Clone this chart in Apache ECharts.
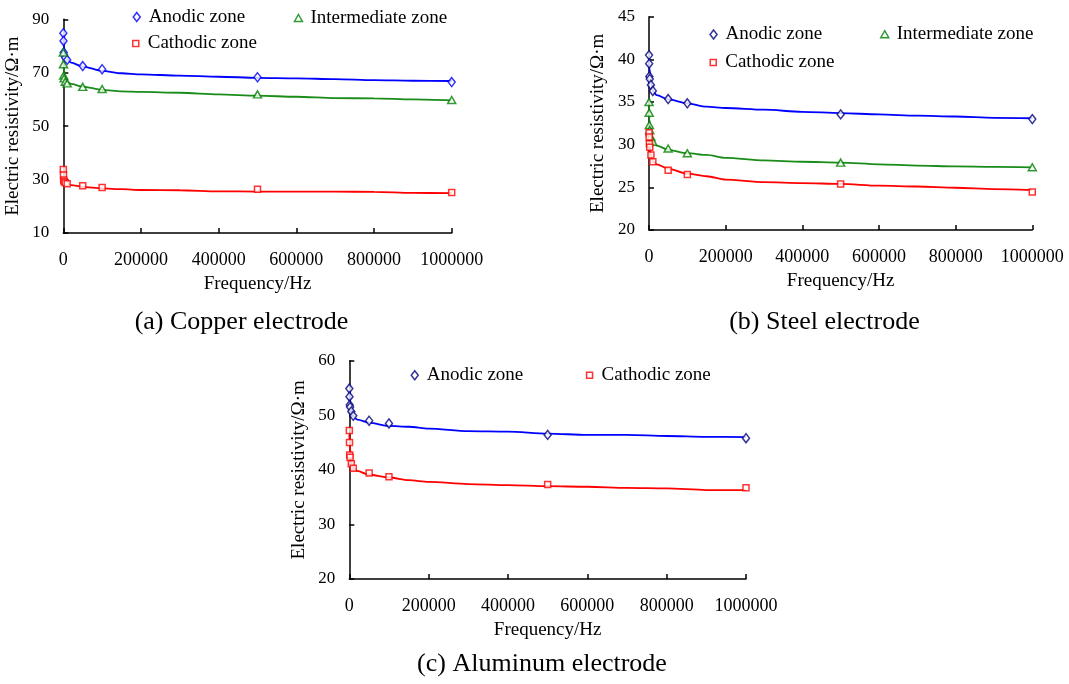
<!DOCTYPE html>
<html>
<head>
<meta charset="utf-8">
<script src="https://cdn.jsdelivr.net/npm/echarts@6/dist/echarts.min.js"></script>
<style>
html,body{margin:0;padding:0;background:#fff;}
#main{width:1069px;height:684px;}
</style>
</head>
<body>
<div id="main"></div>
<script>
// ---- data ----
const freqs = [100, 500, 1000, 2000, 5000, 10000, 50000, 100000, 500000, 1000000];
const cuAnodic = [84.8, 81.9, 77.6, 76.6, 75.6, 74.8, 72.5, 71.3, 68.3, 66.5];
const cuInter  = [77.6, 73.2, 68.9, 67.9, 66.6, 66.0, 64.7, 63.9, 61.9, 59.8];
const cuCath   = [33.8, 31.7, 29.8, 29.3, 28.8, 28.4, 27.7, 27.0, 26.4, 25.2];
const stAnodic = [40.5, 39.5, 38.0, 37.7, 37.0, 36.3, 35.35, 34.85, 33.55, 33.0];
const stInter  = [35.0, 33.75, 32.3, 31.7, 30.9, 30.35, 29.55, 29.0, 27.9, 27.35];
const stCath   = [31.4, 30.9, 30.1, 29.7, 28.8, 28.0, 27.0, 26.5, 25.4, 24.45];
const alAnodic = [54.9, 53.4, 51.9, 51.5, 50.7, 49.9, 49.0, 48.5, 46.4, 45.8];
const alCath   = [47.2, 45.0, 42.7, 42.3, 41.1, 40.3, 39.4, 38.75, 37.3, 36.7];

// fitted curves
const fitFreqs = [100, 1000, 5000, 10000, 20000, 50000, 100000, 150000, 200000, 300000, 400000, 500000, 600000, 700000, 800000, 900000, 1000000];
const cuAnodicFit = [82.5, 80.0, 77.0, 75.0, 73.8, 72.3, 70.7, 69.8, 69.4, 68.9, 68.5, 68.1, 67.9, 67.6, 67.2, 67.0, 66.9];
const cuInterFit  = [76.0, 72.0, 68.0, 66.5, 65.8, 64.8, 63.6, 63.0, 62.8, 62.5, 61.9, 61.4, 61.0, 60.5, 60.4, 60.0, 59.6];
const cuCathFit   = [31.0, 30.0, 29.0, 28.3, 27.9, 27.3, 26.7, 26.4, 26.1, 26.0, 25.6, 25.5, 25.5, 25.5, 25.4, 25.0, 24.9];
const stAnodicFit = [40.2, 39.0, 37.4, 36.3, 35.8, 35.3, 34.85, 34.45, 34.3, 34.1, 33.85, 33.7, 33.55, 33.4, 33.3, 33.15, 33.1];
const stInterFit  = [34.5, 33.0, 31.0, 30.3, 29.9, 29.4, 29.0, 28.8, 28.45, 28.15, 28.0, 27.9, 27.7, 27.55, 27.45, 27.4, 27.35];
const stCathFit   = [31.0, 30.0, 28.8, 28.0, 27.7, 27.2, 26.6, 26.3, 25.9, 25.6, 25.5, 25.4, 25.2, 25.1, 24.95, 24.8, 24.7];
const alAnodicFit = [54.5, 53.0, 51.0, 49.75, 49.2, 48.65, 48.05, 47.9, 47.55, 47.1, 47.0, 46.65, 46.4, 46.4, 46.2, 46.05, 46.0];
const alCathFit   = [46.5, 44.5, 41.5, 40.3, 39.8, 39.1, 38.6, 38.1, 37.8, 37.4, 37.2, 37.0, 36.9, 36.7, 36.6, 36.3, 36.3];

const xTicks = { min: 0, max: 1000000, interval: 200000 };
const yRanges = [ {min:10, max:90, interval:20}, {min:20, max:45, interval:5}, {min:20, max:60, interval:10} ];
const subtitles = ['(a) Copper electrode', '(b) Steel electrode', '(c) Aluminum electrode'];
const xName = 'Frequency/Hz';
const yName = 'Electric resistivity/Ω·m';

// ---- styling ----
const FF = '"Liberation Serif","Times New Roman",serif';
const BLUE = '#0000ff', NAVY = '#000080', GREEN = '#008000', GREENL = '#1a8c1a', RED = '#ff0000';

const grids = [
  {left: 63.3, top: 19.3, width: 388.4, height: 213.7},
  {left: 649, top: 16.7, width: 383.3, height: 213.3},
  {left: 349.3, top: 360.7, width: 396.7, height: 218.3}
];

function xAxis(i){
  return {
    type:'value', gridIndex:i, min:xTicks.min, max:xTicks.max, interval:xTicks.interval,
    axisLine:{show:true, onZero:false, lineStyle:{color:'#000', width:1.5}},
    axisTick:{show:true, inside:true, length:5, lineStyle:{color:'#000', width:1.5}},
    axisLabel:{color:'#000', fontSize:18, fontFamily:FF, margin:18, formatter:(v)=>String(v)},
    splitLine:{show:false},
    name:xName, nameLocation:'middle', nameGap:42,
    nameTextStyle:{color:'#000', fontSize:19, fontFamily:FF}
  };
}
function yAxis(i){
  const r = yRanges[i];
  return {
    type:'value', gridIndex:i, min:r.min, max:r.max, interval:r.interval,
    axisLine:{show:true, onZero:false, lineStyle:{color:'#000', width:1.5}},
    axisTick:{show:true, inside:true, length:5, lineStyle:{color:'#000', width:1.5}},
    axisLabel:{color:'#000', fontSize:17, fontFamily:FF, margin:14},
    splitLine:{show:false},
    name:yName, nameLocation:'middle', nameGap:41, nameRotate:90,
    nameTextStyle:{color:'#000', fontSize:19, fontFamily:FF}
  };
}
function pts(xs, ys){ return xs.map((x,k)=>[x, ys[k]]); }
function fitLine(i, name, ys, color){
  return {type:'line', name:name, xAxisIndex:i, yAxisIndex:i, data:pts(fitFreqs, ys),
    showSymbol:false, symbol:'none', smooth:0.3, smoothMonotone:'x',
    lineStyle:{color:color, width:1.8}, z:2, silent:true};
}
function marks(i, name, ys, symbol, size, color){
  return {type:'scatter', name:name, xAxisIndex:i, yAxisIndex:i, data:pts(freqs, ys),
    symbol:symbol, symbolSize:size,
    itemStyle:{color:'#fff', borderColor:color, borderWidth:1.5}, z:3};
}
const DS = [7,9], TS = [8,7], SS = 6;

const series = [
  fitLine(0,'cuA fit',cuAnodicFit,BLUE), fitLine(0,'cuI fit',cuInterFit,GREENL), fitLine(0,'cuC fit',cuCathFit,RED),
  marks(0,'Anodic zone',cuAnodic,'diamond',DS,BLUE),
  marks(0,'Intermediate zone',cuInter,'triangle',TS,GREEN),
  marks(0,'Cathodic zone',cuCath,'rect',SS,RED),
  fitLine(1,'stA fit',stAnodicFit,BLUE), fitLine(1,'stI fit',stInterFit,GREENL), fitLine(1,'stC fit',stCathFit,RED),
  marks(1,'Anodic zone',stAnodic,'diamond',DS,NAVY),
  marks(1,'Intermediate zone',stInter,'triangle',TS,GREEN),
  marks(1,'Cathodic zone',stCath,'rect',SS,RED),
  fitLine(2,'alA fit',alAnodicFit,BLUE), fitLine(2,'alC fit',alCathFit,RED),
  marks(2,'Anodic zone',alAnodic,'diamond',DS,NAVY),
  marks(2,'Cathodic zone',alCath,'rect',SS,RED)
];

const ICON = { diamond:[7,9], triangle:[8,7], rect:[6,6] };
function leg(name, icon, color, cx, cy){
  const [w,h] = ICON[icon];
  return {
    left: cx - w/2, top: cy - 8, padding:0, itemWidth:w, itemHeight:h,
    selectedMode:false,
    textStyle:{color:'#000', fontSize:19, fontFamily:FF, padding:[0,0,0,12 - w/2 - 5]},
    data:[{name:name, icon:icon, itemStyle:{color:'#fff', borderColor:color, borderWidth:1.5}}]
  };
}
const legends = [
  leg('Anodic zone','diamond',BLUE,136,15.5),
  leg('Intermediate zone','triangle',GREEN,297.7,16.5),
  leg('Cathodic zone','rect',RED,135,42),
  leg('Anodic zone','diamond',NAVY,712.8,33),
  leg('Intermediate zone','triangle',GREEN,884,32.7),
  leg('Cathodic zone','rect',RED,712.5,61),
  leg('Anodic zone','diamond',NAVY,414,373.7),
  leg('Cathodic zone','rect',RED,588.8,373.7)
];

const subPos = [[241.5,322],[824.5,322],[542,664]];
const graphics = subtitles.map((t,i)=>({
  type:'text', x:subPos[i][0], y:subPos[i][1],
  style:{text:t, fontSize:26, fontFamily:FF, fill:'#000', align:'center', verticalAlign:'middle'}
}));

const chart = echarts.init(document.getElementById('main'), null, {renderer:'canvas'});
chart.setOption({
  animation:false,
  backgroundColor:'#fff',
  grid: grids,
  xAxis: [xAxis(0), xAxis(1), xAxis(2)],
  yAxis: [yAxis(0), yAxis(1), yAxis(2)],
  legend: legends,
  graphic: graphics,
  series: series
});
</script>
</body>
</html>
